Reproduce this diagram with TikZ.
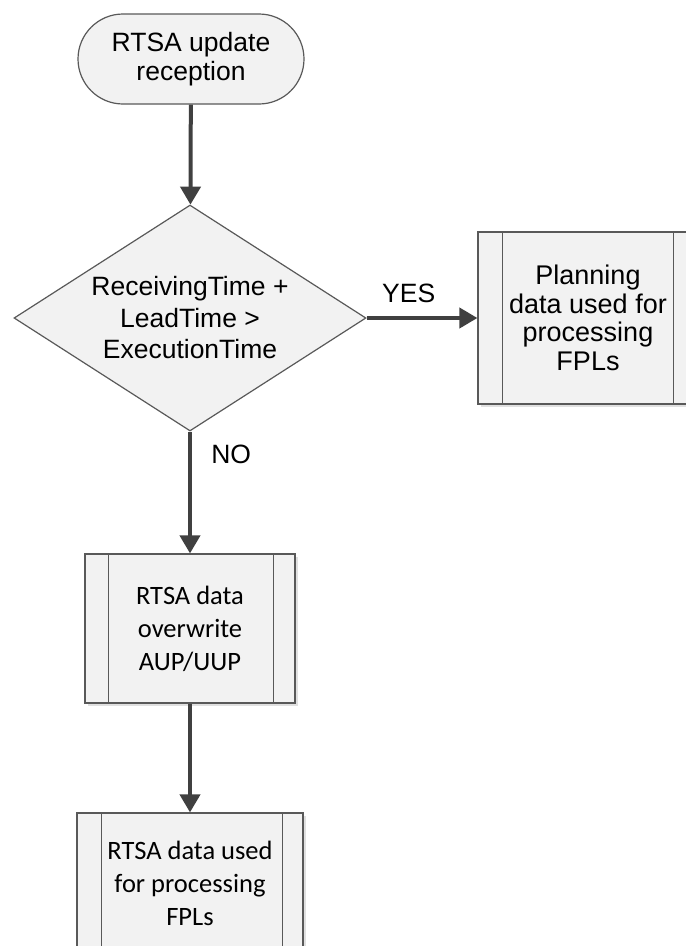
\documentclass[tikz,border=0pt]{standalone}
\usepackage{fontspec}
\setmainfont{Liberation Sans}
\newfontfamily\calibri{Carlito}
\usetikzlibrary{shapes.geometric,arrows.meta,calc,shadows}
\definecolor{boxfill}{HTML}{F2F2F2}
\definecolor{boxline}{HTML}{595959}
\definecolor{arrowgray}{HTML}{404040}
\tikzstyle{terminal} = [rectangle, rounded corners=45pt, draw=boxline, line width=1.2pt, fill=boxfill, text centered, minimum height=90pt, minimum width=226pt, font=\fontsize{26.5}{29}\selectfont]
\tikzstyle{decision} = [diamond, draw=boxline, line width=1.2pt, fill=boxfill, text centered, minimum height=226pt, minimum width=352pt, shape aspect=1.56, inner sep=0pt, font=\fontsize{26.5}{31.5}\selectfont]
\tikzstyle{process} = [rectangle, draw=boxline, line width=1.2pt, fill=boxfill, text centered, drop shadow={shadow xshift=3pt, shadow yshift=-3pt, fill=black!12, opacity=1}]
\tikzstyle{arrow} = [line width=4pt, draw=arrowgray, -{Triangle[length=18pt,width=20pt]}]

\begin{document}
\begin{tikzpicture}[x=1pt, y=1pt, node distance=250pt]
            \clip (0,0) rectangle (686,-946);
            \useasboundingbox (0,0) rectangle (686,-946);
            \node (start) [terminal, align=center] at (191,-59) {
                RTSA update\\
                reception
            };
            \node (cond) [decision, align=center, below of = start, yshift=-9pt, xshift=-1pt] {
                ReceivingTime +\\
                LeadTime >\\
                ExecutionTime
            };
            \node (plan) [process, align=center, right of = cond, xshift=148pt, minimum width=220pt, minimum height=172pt, font=\fontsize{27}{28.5}\selectfont] {
                Planning\\
                data used for\\
                processing\\
                FPLs
            };
            \node (overwrite) [process, align=center, below of = cond, yshift=-60.5pt, minimum width=210pt, minimum height=149pt, font=\calibri\fontsize{26.5}{33}\selectfont] {
                RTSA data\\
                overwrite\\
                AUP/UUP
            };
            \node (used) [process, align=center, below of = overwrite, yshift=-4.5pt, minimum width=226pt, minimum height=140pt, font=\calibri\fontsize{26.5}{33}\selectfont] {
                RTSA data used\\
                for processing\\
                FPLs
            };
            % inner bars of the process boxes
            \draw [boxline, line width=1.2pt] ($(plan.north west)+(25pt,0)$) -- ($(plan.south west)+(25pt,0)$);
            \draw [boxline, line width=1.2pt] ($(plan.north east)+(-25pt,0)$) -- ($(plan.south east)+(-25pt,0)$);
            \draw [boxline, line width=1.2pt] ($(overwrite.north west)+(24pt,0)$) -- ($(overwrite.south west)+(24pt,0)$);
            \draw [boxline, line width=1.2pt] ($(overwrite.north east)+(-22pt,0)$) -- ($(overwrite.south east)+(-22pt,0)$);
            \draw [boxline, line width=1.2pt] ($(used.north west)+(25pt,0)$) -- ($(used.south west)+(25pt,0)$);
            \draw [boxline, line width=1.2pt] ($(used.north east)+(-21pt,0)$) -- ($(used.south east)+(-21pt,0)$);
            % connectors
            \draw [arrow] (start) -- (cond);
            \draw [arrow] (cond.east) -- (plan.west) node [pos=0.38, above=10pt, font=\fontsize{26.5}{29}\selectfont] {YES};
            \draw [arrow] (cond.south) -- (overwrite.north) node [pos=0.19, right=16pt, font=\fontsize{26.5}{29}\selectfont] {NO};
            \draw [arrow] (overwrite) -- (used);
        \end{tikzpicture}
\end{document}
